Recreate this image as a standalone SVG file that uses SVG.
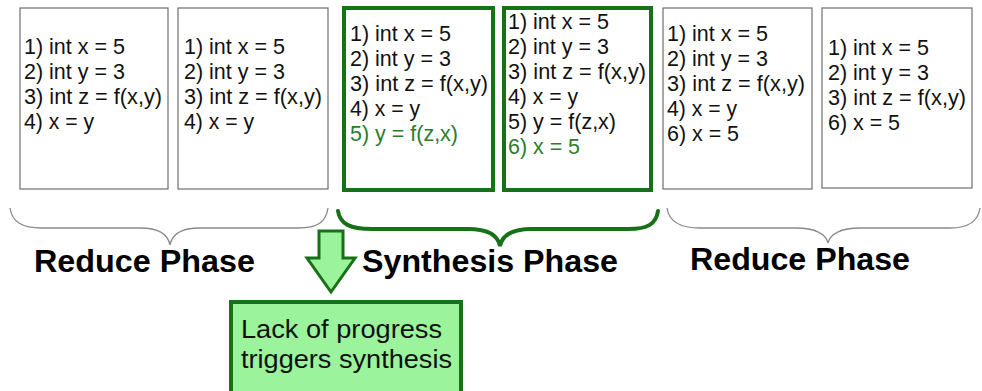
<svg xmlns="http://www.w3.org/2000/svg" width="982" height="391" viewBox="0 0 982 391">
<style>
  .box { fill: #fff; stroke: #6e6e6e; stroke-width: 1.2; }
  .gbox { fill: #fff; stroke: #177217; stroke-width: 4; }
  .code { font-family: "Liberation Sans", Arial, sans-serif; font-size: 22px; fill: #111; }
  .new { fill: #2b7d2b; }
  .phase { font-family: "Liberation Sans", Arial, sans-serif; font-size: 31px; font-weight: bold; fill: #000; }
  .brace { fill: none; stroke: #8a8a8a; stroke-width: 1.3; }
  .gbrace { fill: none; stroke: #177217; stroke-width: 4; stroke-linecap: round; }
  .note { fill: #9bf39b; stroke: #177217; stroke-width: 4; }
  .notetxt { font-family: "Liberation Sans", Arial, sans-serif; font-size: 26px; fill: #111; }
</style>

<g id="box1">
  <rect class="box" x="20" y="8" width="148" height="181"/>
  <text class="code" x="24" y="54" textLength="101" lengthAdjust="spacingAndGlyphs">1) int x = 5</text>
  <text class="code" x="24" y="79" textLength="101" lengthAdjust="spacingAndGlyphs">2) int y = 3</text>
  <text class="code" x="24" y="104" textLength="138" lengthAdjust="spacingAndGlyphs">3) int z = f(x,y)</text>
  <text class="code" x="24" y="129" textLength="70" lengthAdjust="spacingAndGlyphs">4) x = y</text>
</g>

<g id="box2">
  <rect class="box" x="178" y="8" width="150" height="181"/>
  <text class="code" x="184" y="54" textLength="101" lengthAdjust="spacingAndGlyphs">1) int x = 5</text>
  <text class="code" x="184" y="79" textLength="101" lengthAdjust="spacingAndGlyphs">2) int y = 3</text>
  <text class="code" x="184" y="104" textLength="138" lengthAdjust="spacingAndGlyphs">3) int z = f(x,y)</text>
  <text class="code" x="184" y="129" textLength="70" lengthAdjust="spacingAndGlyphs">4) x = y</text>
</g>

<g id="box3">
  <rect class="gbox" x="344" y="8" width="149" height="182"/>
  <text class="code" x="350" y="41" textLength="101" lengthAdjust="spacingAndGlyphs">1) int x = 5</text>
  <text class="code" x="350" y="66" textLength="101" lengthAdjust="spacingAndGlyphs">2) int y = 3</text>
  <text class="code" x="350" y="91" textLength="138" lengthAdjust="spacingAndGlyphs">3) int z = f(x,y)</text>
  <text class="code" x="350" y="116" textLength="70" lengthAdjust="spacingAndGlyphs">4) x = y</text>
  <text class="code new" x="350" y="141" textLength="108" lengthAdjust="spacingAndGlyphs">5) y = f(z,x)</text>
</g>

<g id="box4">
  <rect class="gbox" x="504" y="8" width="147" height="182"/>
  <text class="code" x="508" y="29" textLength="101" lengthAdjust="spacingAndGlyphs">1) int x = 5</text>
  <text class="code" x="508" y="54" textLength="101" lengthAdjust="spacingAndGlyphs">2) int y = 3</text>
  <text class="code" x="508" y="79" textLength="138" lengthAdjust="spacingAndGlyphs">3) int z = f(x,y)</text>
  <text class="code" x="508" y="104" textLength="70" lengthAdjust="spacingAndGlyphs">4) x = y</text>
  <text class="code" x="508" y="129" textLength="108" lengthAdjust="spacingAndGlyphs">5) y = f(z,x)</text>
  <text class="code new" x="508" y="154" textLength="72" lengthAdjust="spacingAndGlyphs">6) x = 5</text>
</g>

<g id="box5">
  <rect class="box" x="663" y="8" width="149" height="181"/>
  <text class="code" x="667" y="41" textLength="101" lengthAdjust="spacingAndGlyphs">1) int x = 5</text>
  <text class="code" x="667" y="66" textLength="101" lengthAdjust="spacingAndGlyphs">2) int y = 3</text>
  <text class="code" x="667" y="91" textLength="138" lengthAdjust="spacingAndGlyphs">3) int z = f(x,y)</text>
  <text class="code" x="667" y="116" textLength="70" lengthAdjust="spacingAndGlyphs">4) x = y</text>
  <text class="code" x="667" y="141" textLength="72" lengthAdjust="spacingAndGlyphs">6) x = 5</text>
</g>

<g id="box6">
  <rect class="box" x="822" y="8" width="150" height="180"/>
  <text class="code" x="828" y="55" textLength="101" lengthAdjust="spacingAndGlyphs">1) int x = 5</text>
  <text class="code" x="828" y="80" textLength="101" lengthAdjust="spacingAndGlyphs">2) int y = 3</text>
  <text class="code" x="828" y="105" textLength="138" lengthAdjust="spacingAndGlyphs">3) int z = f(x,y)</text>
  <text class="code" x="828" y="130" textLength="72" lengthAdjust="spacingAndGlyphs">6) x = 5</text>
</g>

<g id="connectors">
  <path class="brace" d="M10,208 C12,222 22,228 42,228 L140,228 C158,228 168,234 170,245 C172,234 182,228 200,228 L298,228 C318,228 326,222 328,208"/>
  <path class="gbrace" d="M338,211 C340,224 350,229 372,229 L468,229 C490,229 498,236 500,246 C502,236 510,229 532,229 L628,229 C648,229 656,224 658,211"/>
  <path class="brace" d="M667,208 C669,222 680,228 700,228 L796,228 C815,228 826,234 828,243 C830,234 841,228 860,228 L950,228 C968,228 978,222 980,208"/>
  <path id="arrow" d="M319,231 L343,231 L343,258 L355,258 L331,292 L307,258 L319,258 Z" fill="#9bf39b" stroke="#177217" stroke-width="3" stroke-linejoin="miter"/>
</g>

<g id="reduce1">
  <text class="phase" x="34" y="272" textLength="221" lengthAdjust="spacingAndGlyphs">Reduce Phase</text>
</g>
<g id="synthesis">
  <text class="phase" x="362" y="272" textLength="256" lengthAdjust="spacingAndGlyphs">Synthesis Phase</text>
</g>
<g id="reduce2">
  <text class="phase" x="690" y="270" textLength="220" lengthAdjust="spacingAndGlyphs">Reduce Phase</text>
</g>

<g id="note">
  <rect class="note" x="231" y="302" width="230" height="100"/>
  <text class="notetxt" x="241" y="338" textLength="201" lengthAdjust="spacingAndGlyphs">Lack of progress</text>
  <text class="notetxt" x="241" y="368" textLength="211" lengthAdjust="spacingAndGlyphs">triggers synthesis</text>
</g>
</svg>
